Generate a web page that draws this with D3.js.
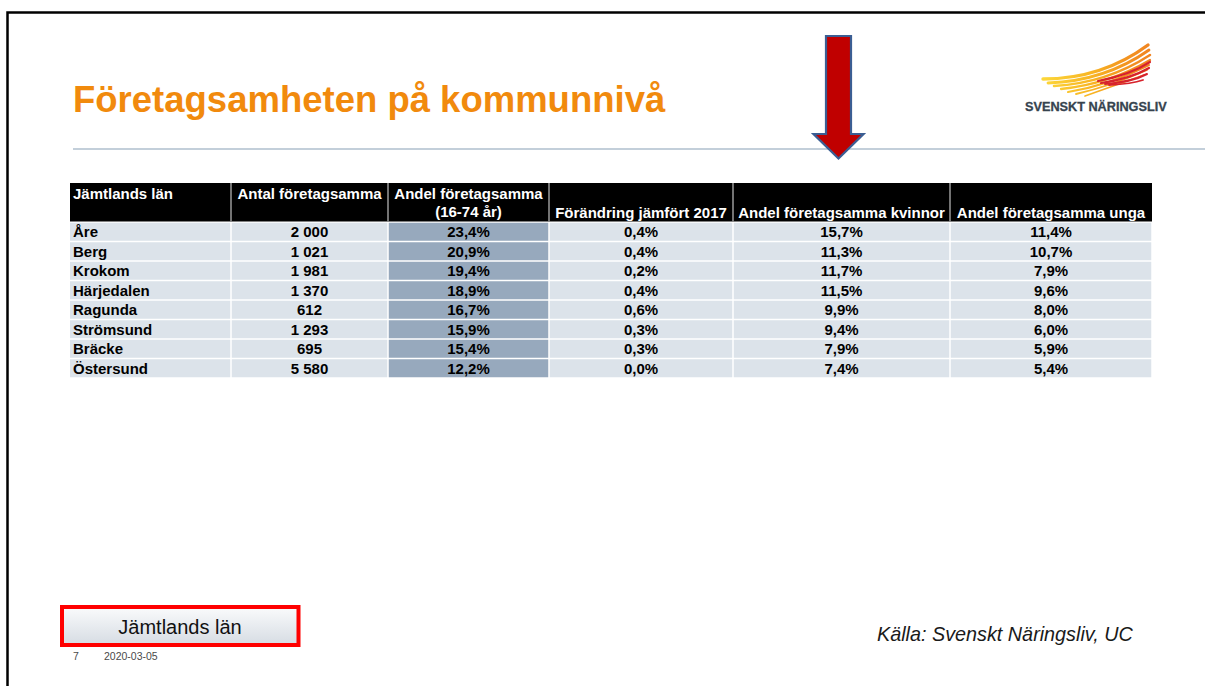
<!DOCTYPE html>
<html>
<head>
<meta charset="utf-8">
<script src="https://cdn.jsdelivr.net/npm/d3@7/dist/d3.min.js"></script>
<style>
  html, body { margin: 0; padding: 0; background: #fff; }
  svg { display: block; }
  text { font-family: "Liberation Sans", Arial, sans-serif; }
</style>
</head>
<body>
<svg id="chart" width="1205" height="686"></svg>
<script>
// ---- Data ----
const title = "Företagsamheten på kommunnivå";
const regionName = "Jämtlands län";
const columnHeaders = [
  ["Jämtlands län"],
  ["Antal företagsamma"],
  ["Andel företagsamma", "(16-74 år)"],
  ["Förändring jämfört 2017"],
  ["Andel företagsamma kvinnor"],
  ["Andel företagsamma unga"]
];
const municipalities = ["Åre", "Berg", "Krokom", "Härjedalen", "Ragunda", "Strömsund", "Bräcke", "Östersund"];
const antalForetagsamma = [2000, 1021, 1981, 1370, 612, 1293, 695, 5580];
const andelForetagsamma = [23.4, 20.9, 19.4, 18.9, 16.7, 15.9, 15.4, 12.2];
const forandring2017 = [0.4, 0.4, 0.2, 0.4, 0.6, 0.3, 0.3, 0.0];
const andelKvinnor = [15.7, 11.3, 11.7, 11.5, 9.9, 9.4, 7.9, 7.4];
const andelUnga = [11.4, 10.7, 7.9, 9.6, 8.0, 6.0, 5.9, 5.4];
const sourceText = "Källa: Svenskt Näringsliv, UC";
const pageNumber = "7";
const dateText = "2020-03-05";
const logoText = "SVENSKT NÄRINGSLIV";

// ---- Setup ----
const svg = d3.select("#chart");
const W = 1205, H = 686;
const sv = d3.formatLocale({decimal: ",", thousands: "\u00a0", grouping: [3], currency: ["", " kr"]});
const fmtInt = sv.format(",d");
const fmtPct = v => sv.format(".1f")(v) + "%";

// slide frame
svg.append("path")
  .attr("d", `M7.5,${H} L7.5,12.5 L${W},12.5`)
  .attr("fill", "none").attr("stroke", "#000").attr("stroke-width", 2.5);

// title
svg.append("text")
  .attr("x", 73).attr("y", 112)
  .attr("font-size", 36.5).attr("font-weight", "bold")
  .attr("fill", "#F18A0D")
  .text(title);

// separator line
svg.append("line")
  .attr("x1", 73).attr("x2", W).attr("y1", 149).attr("y2", 149)
  .attr("stroke", "#C3CFDA").attr("stroke-width", 2);

// logo wings
const defs = svg.append("defs");
const grad = defs.append("linearGradient").attr("id", "wingGrad")
  .attr("gradientUnits", "userSpaceOnUse")
  .attr("x1", 1043).attr("x2", 1150).attr("y1", 0).attr("y2", 0);
grad.append("stop").attr("offset", 0).attr("stop-color", "#FCD73A");
grad.append("stop").attr("offset", 0.45).attr("stop-color", "#F8B524");
grad.append("stop").attr("offset", 0.75).attr("stop-color", "#F39620");
grad.append("stop").attr("offset", 1).attr("stop-color", "#F08422");
const bg = defs.append("linearGradient").attr("id", "btnGrad")
  .attr("x1", 0).attr("x2", 0).attr("y1", 0).attr("y2", 1);
bg.append("stop").attr("offset", 0).attr("stop-color", "#FAFBFC");
bg.append("stop").attr("offset", 1).attr("stop-color", "#D6DCE3");

const feathers = [
  {l: [1043, 79], c: [1102, 79], r: [1148, 45], w: 3.4},
  {l: [1048, 83], c: [1105, 81], r: [1149, 50], w: 2.8},
  {l: [1054, 86], c: [1107, 83], r: [1150, 55], w: 2.5},
  {l: [1061, 89], c: [1109, 84], r: [1150, 60], w: 2.3},
  {l: [1068, 92], c: [1110, 85], r: [1149, 65], w: 2.1},
  {l: [1076, 94], c: [1111, 86], r: [1147, 70], w: 1.9},
  {l: [1085, 96], c: [1113, 86], r: [1144, 75], w: 1.7}
];
const redFeathers = [
  {l: [1098, 81], c: [1130, 75], r: [1150, 62], w: 2.2},
  {l: [1101, 83], c: [1130, 79], r: [1149, 68], w: 2.2},
  {l: [1105, 84], c: [1132, 82], r: [1147, 74], w: 2.0},
  {l: [1109, 85], c: [1132, 84], r: [1143, 80], w: 1.8}
];
const fpath = f => `M${f.l[0]},${f.l[1]} Q${f.c[0]},${f.c[1]} ${f.r[0]},${f.r[1]}`;
svg.append("g").selectAll("path").data(feathers).join("path")
  .attr("d", fpath).attr("fill", "none").attr("stroke", "url(#wingGrad)")
  .attr("stroke-width", d => d.w).attr("stroke-linecap", "round");
svg.append("g").selectAll("path").data(redFeathers).join("path")
  .attr("d", fpath).attr("fill", "none").attr("stroke", "#D7232C")
  .attr("stroke-width", d => d.w).attr("stroke-linecap", "round");
svg.append("text")
  .attr("x", 1025).attr("y", 111)
  .attr("font-size", 12.7).attr("font-weight", "bold")
  .attr("fill", "#36434E")
  .attr("stroke", "#36434E").attr("stroke-width", 0.3)
  .text(logoText);

// red arrow
svg.append("path")
  .attr("d", "M826,36 L851,36 L851,134 L863.5,134 L838.5,158.5 L813.5,134 L826,134 Z")
  .attr("fill", "#C00000").attr("stroke", "#3B5E93").attr("stroke-width", 2.2)
  .attr("stroke-linejoin", "miter");

// ---- Table ----
const colEdges = [70, 231, 388, 549, 733, 950, 1152];
const colCenters = d3.range(6).map(i => (colEdges[i] + colEdges[i + 1]) / 2);
const headerTop = 183, headerBottom = 221.5;
const y = d3.scaleBand().domain(municipalities).range([222, 378]).paddingInner(0);

// header background
svg.append("rect")
  .attr("x", colEdges[0]).attr("y", headerTop)
  .attr("width", colEdges[6] - colEdges[0]).attr("height", headerBottom - headerTop)
  .attr("fill", "#000");
svg.append("g").selectAll("line").data(colEdges.slice(1, 6)).join("line")
  .attr("x1", d => d).attr("x2", d => d)
  .attr("y1", headerTop).attr("y2", headerBottom)
  .attr("stroke", "#9A9A9A").attr("stroke-width", 1.5);

// header text
const hg = svg.append("g").attr("font-size", 15).attr("font-weight", "bold").attr("fill", "#fff");
columnHeaders.forEach((lines, i) => {
  if (i === 0) {
    hg.append("text").attr("x", colEdges[0] + 3).attr("y", 199).text(lines[0]);
  } else if (i === 1) {
    hg.append("text").attr("x", colCenters[i]).attr("y", 199).attr("text-anchor", "middle").text(lines[0]);
  } else if (i === 2) {
    hg.append("text").attr("x", colCenters[i]).attr("y", 199).attr("text-anchor", "middle").text(lines[0]);
    hg.append("text").attr("x", colCenters[i]).attr("y", 216.5).attr("text-anchor", "middle").text(lines[1]);
  } else {
    hg.append("text").attr("x", colCenters[i]).attr("y", 217.5).attr("text-anchor", "middle").text(lines[0]);
  }
});

// body
const rows = municipalities.map((m, i) => [
  m, fmtInt(antalForetagsamma[i]), fmtPct(andelForetagsamma[i]),
  fmtPct(forandring2017[i]), fmtPct(andelKvinnor[i]), fmtPct(andelUnga[i])
]);
const body = svg.append("g");
rows.forEach((r, ri) => {
  const y0 = y(municipalities[ri]);
  r.forEach((val, ci) => {
    body.append("rect")
      .attr("x", colEdges[ci] + (ci === 0 ? 0 : 0.75))
      .attr("y", y0 + 0.75)
      .attr("width", colEdges[ci + 1] - colEdges[ci] - (ci === 0 ? 0.75 : 1.5))
      .attr("height", y.bandwidth() - 1.5)
      .attr("fill", ci === 2 ? "#97A9BD" : "#DCE3EA");
    body.append("text")
      .attr("x", ci === 0 ? colEdges[0] + 3 : colCenters[ci])
      .attr("y", y0 + 15)
      .attr("text-anchor", ci === 0 ? "start" : "middle")
      .attr("font-size", 15).attr("font-weight", "bold").attr("fill", "#000")
      .text(val);
  });
});

// ---- Footer ----
svg.append("rect")
  .attr("x", 62).attr("y", 607).attr("width", 236.5).attr("height", 38)
  .attr("fill", "url(#btnGrad)").attr("stroke", "#FF0000").attr("stroke-width", 4);
svg.append("text")
  .attr("x", 180).attr("y", 634).attr("text-anchor", "middle")
  .attr("font-size", 20).attr("fill", "#111")
  .text(regionName);
svg.append("text")
  .attr("x", 73).attr("y", 660).attr("font-size", 10.5).attr("fill", "#4A4A4A")
  .text(pageNumber);
svg.append("text")
  .attr("x", 104).attr("y", 660).attr("font-size", 10.5).attr("fill", "#4A4A4A")
  .text(dateText);
svg.append("text")
  .attr("x", 877).attr("y", 641).attr("font-size", 19.8).attr("font-style", "italic")
  .attr("fill", "#1A1A1A")
  .text(sourceText);
</script>
</body>
</html>
